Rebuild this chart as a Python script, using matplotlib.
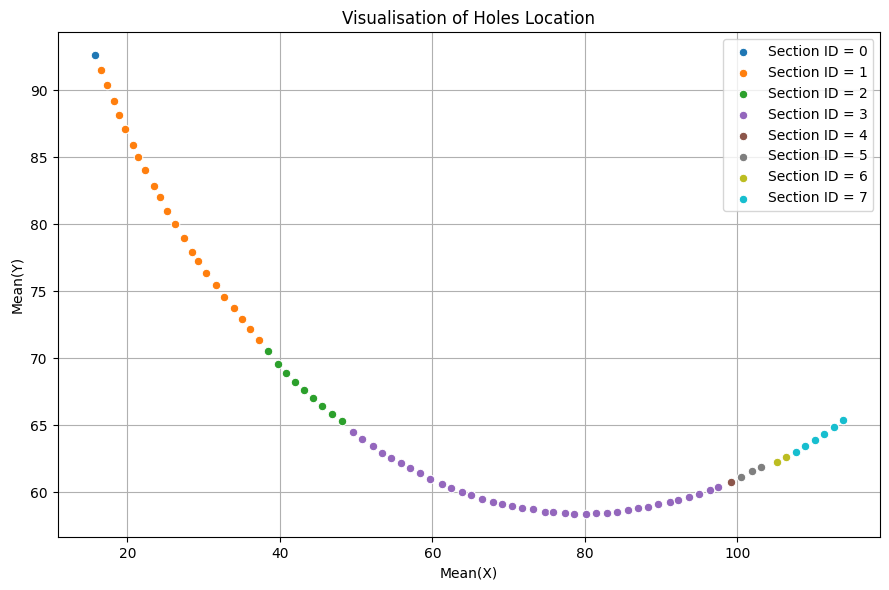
import matplotlib
matplotlib.use("Agg")
from matplotlib import pyplot as plt

# hole centres, grouped by section
x0 = [15.73]
y0 = [92.62]

x1 = [16.47, 17.31, 18.17, 18.95, 19.74, 20.78, 21.44, 22.35, 23.53, 24.31, 25.23,
      26.27, 27.45, 28.50, 29.28, 30.29, 31.55, 32.63, 33.94, 34.99, 36.04, 37.22]
y1 = [91.50, 90.37, 89.18, 88.13, 87.08, 85.95, 85.05, 84.08, 82.88, 82.05, 81.00,
      80.03, 78.98, 77.93, 77.26, 76.36, 75.47, 74.55, 73.73, 72.91, 72.16, 71.34]

x2 = [38.40, 39.71, 40.76, 41.94, 43.12, 44.30, 45.49, 46.80, 48.11]
y2 = [70.52, 69.60, 68.92, 68.25, 67.66, 67.01, 66.42, 65.82, 65.30]

x3 = [49.55, 50.73, 52.18, 53.36, 54.54, 55.85, 57.03, 58.34, 59.66, 61.23, 62.41,
      63.86, 65.04, 66.48, 67.93, 69.18, 70.50, 71.77, 73.22, 74.72, 75.86, 77.44,
      78.63, 80.21, 81.40, 82.85, 84.17, 85.62, 86.94, 88.26, 89.58, 91.16, 92.22,
      93.67, 94.99, 96.44, 97.49]
y3 = [64.53, 63.98, 63.46, 62.96, 62.59, 62.22, 61.84, 61.47, 61.02, 60.65, 60.35,
      60.05, 59.83, 59.53, 59.31, 59.17, 58.96, 58.81, 58.73, 58.51, 58.51, 58.43,
      58.36, 58.36, 58.43, 58.43, 58.51, 58.66, 58.81, 58.88, 59.10, 59.25, 59.40,
      59.63, 59.85, 60.15, 60.37]

x4 = [99.21]
y4 = [60.75]

x5 = [100.53, 101.98, 103.17]
y5 = [61.12, 61.57, 61.87]

x6 = [105.15, 106.33]
y6 = [62.24, 62.61]

x7 = [107.65, 108.84, 110.16, 111.35, 112.67, 113.85]
y7 = [62.99, 63.43, 63.88, 64.33, 64.85, 65.37]

sections = [(x0, y0), (x1, y1), (x2, y2), (x3, y3), (x4, y4), (x5, y5), (x6, y6), (x7, y7)]
colors = ['#1f77b4', '#ff7f0e', '#2ca02c', '#9467bd', '#8c564b', '#7f7f7f', '#bcbd22', '#17becf']

plt.figure(figsize=(8.89, 5.9), dpi=100)
for i, (xs, ys) in enumerate(sections):
    plt.scatter(xs, ys, s=38, color=colors[i], edgecolor='white', linewidth=0.75,
                label='Section ID = %d' % i, zorder=3)

plt.title("Visualisation of Holes Location")
plt.xlabel("Mean(X)")
plt.ylabel("Mean(Y)")
plt.legend(loc='upper right')
plt.grid(True)
plt.subplots_adjust(left=0.0647, right=0.9902, top=0.9453, bottom=0.0893)
plt.savefig("out.png")
